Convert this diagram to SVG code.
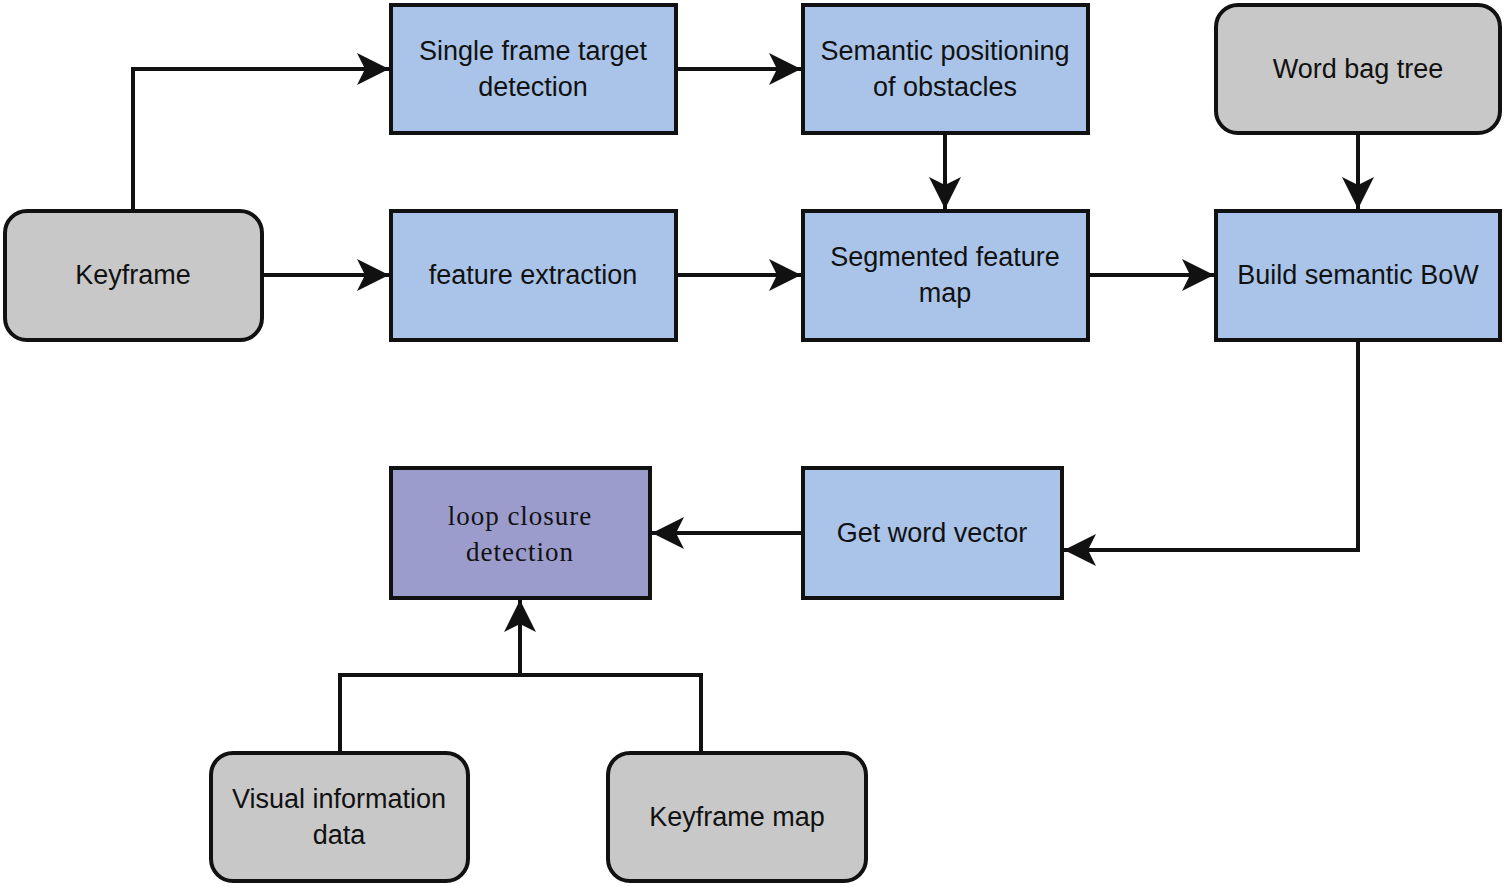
<svg xmlns="http://www.w3.org/2000/svg" width="1505" height="886" viewBox="0 0 1505 886">
<style>
.n{stroke:#111;stroke-width:4}
.b{fill:#a9c4e8}
.g{fill:#c8c8c8}
.p{fill:#9b9bcc}
.t{font-family:"Liberation Sans",Arial,sans-serif;font-size:27px;fill:#111;text-anchor:middle}
.s{font-family:"Liberation Serif","Times New Roman",serif;font-size:27px;fill:#111;text-anchor:middle;letter-spacing:1px}
.c{fill:none;stroke:#111;stroke-width:4}
</style>
<defs>
<marker id="a" viewBox="0 0 10 10" refX="9" refY="5" markerWidth="8" markerHeight="8" markerUnits="userSpaceOnUse" orient="auto" style="overflow:visible">
<path d="M-22,-11 L8,5 L-22,21 L-14,5 Z" transform="translate(0,0)" fill="#111"/>
</marker>
<marker id="m" viewBox="-32 -16 34 32" refX="0" refY="0" markerWidth="34" markerHeight="32" markerUnits="userSpaceOnUse" orient="auto">
<path d="M0,0 L-32,-16 L-24,0 L-32,16 Z" fill="#111"/>
</marker>
</defs>
<g id="connectors">
<path class="c" d="M133,211 V69 H389" marker-end="url(#m)"/>
<path class="c" d="M262,275 H389" marker-end="url(#m)"/>
<path class="c" d="M676,69 H801" marker-end="url(#m)"/>
<path class="c" d="M676,275 H801" marker-end="url(#m)"/>
<path class="c" d="M945,133 V209" marker-end="url(#m)"/>
<path class="c" d="M1088,275 H1214" marker-end="url(#m)"/>
<path class="c" d="M1358,133 V209" marker-end="url(#m)"/>
<path class="c" d="M1358,340 V550 H1064" marker-end="url(#m)"/>
<path class="c" d="M803,533 H652" marker-end="url(#m)"/>
<path class="c" d="M340,753 V675 H701 V753"/>
<path class="c" d="M520,675 V600" marker-end="url(#m)"/>
</g>
<g id="keyframe"><rect class="n g" x="5" y="211" width="257" height="129" rx="22"/><text class="t" x="133" y="284">Keyframe</text></g>
<g id="single"><rect class="n b" x="391" y="5" width="285" height="128"/><text class="t" x="533" y="60">Single frame target</text><text class="t" x="533" y="96">detection</text></g>
<g id="semantic"><rect class="n b" x="803" y="5" width="285" height="128"/><text class="t" x="945" y="60">Semantic positioning</text><text class="t" x="945" y="96">of obstacles</text></g>
<g id="wordbag"><rect class="n g" x="1216" y="5" width="284" height="128" rx="22"/><text class="t" x="1358" y="78">Word bag tree</text></g>
<g id="feature"><rect class="n b" x="391" y="211" width="285" height="129"/><text class="t" x="533" y="284">feature extraction</text></g>
<g id="segmented"><rect class="n b" x="803" y="211" width="285" height="129"/><text class="t" x="945" y="266">Segmented feature</text><text class="t" x="945" y="302">map</text></g>
<g id="bow"><rect class="n b" x="1216" y="211" width="284" height="129"/><text class="t" x="1358" y="284">Build semantic BoW</text></g>
<g id="loop"><rect class="n p" x="391" y="468" width="259" height="130"/><text class="s" x="520" y="525">loop closure</text><text class="s" x="520" y="561">detection</text></g>
<g id="wordvec"><rect class="n b" x="803" y="468" width="259" height="130"/><text class="t" x="932" y="542">Get word vector</text></g>
<g id="visual"><rect class="n g" x="211" y="753" width="257" height="128" rx="22"/><text class="t" x="339" y="808">Visual information</text><text class="t" x="339" y="844">data</text></g>
<g id="kfmap"><rect class="n g" x="608" y="753" width="258" height="128" rx="22"/><text class="t" x="737" y="826">Keyframe map</text></g>
</svg>
